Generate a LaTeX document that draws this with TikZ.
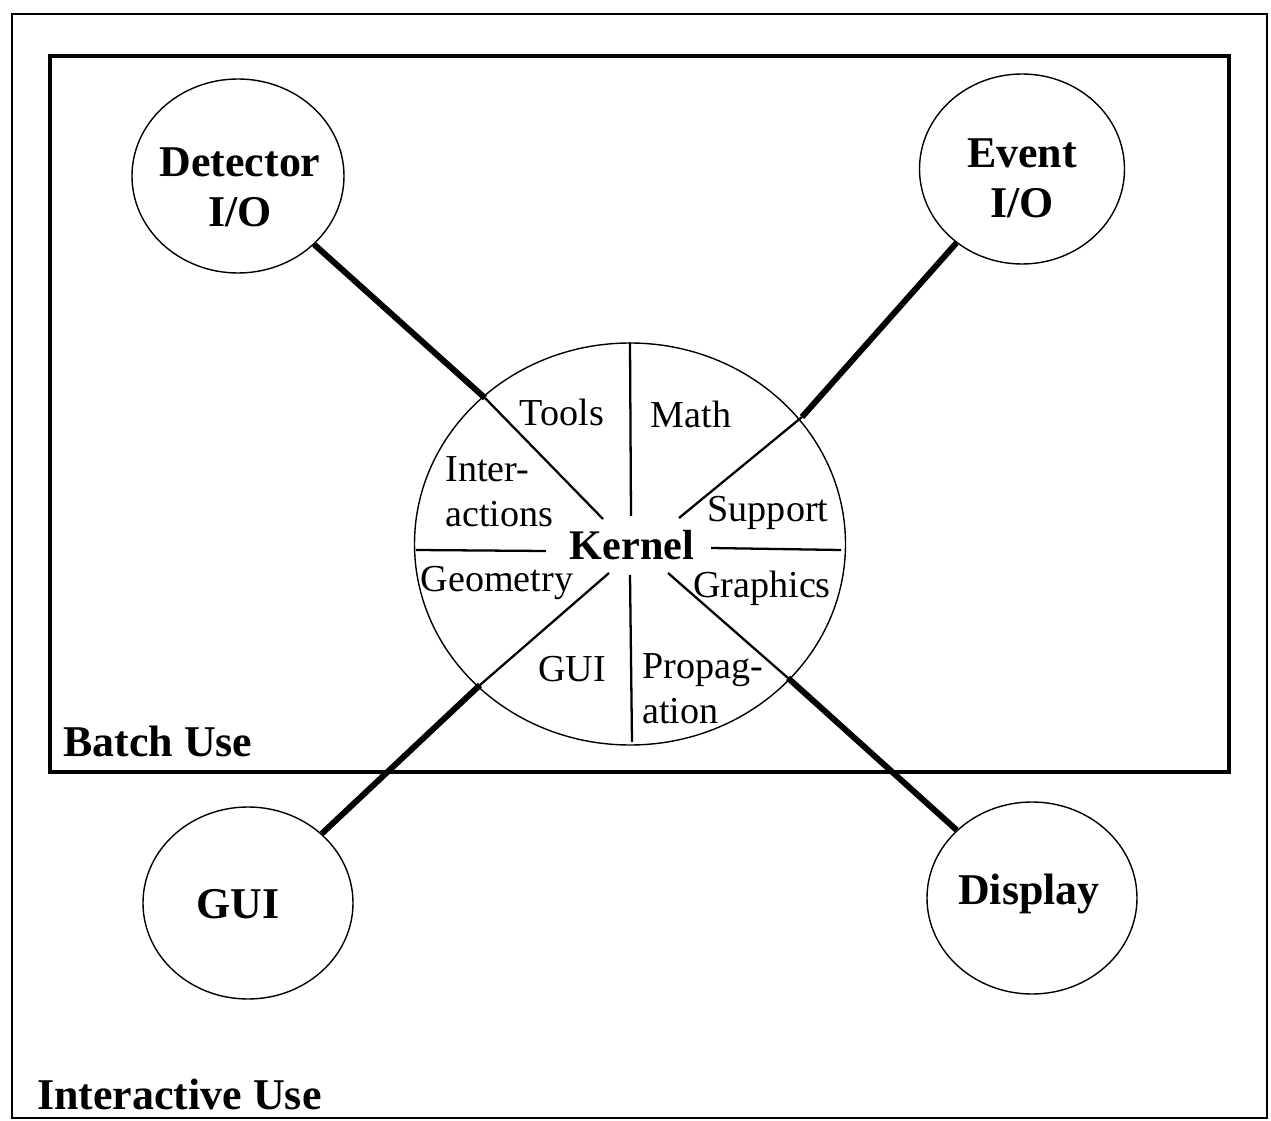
\documentclass[tikz,border=0pt]{standalone}
\usepackage{fontspec}
\setmainfont{Liberation Serif}
\usetikzlibrary{shapes.geometric}
\newdimen\px
\px=0.02cm
\tikzset{
  frame/.style={draw, line width=1.5pt},
  usebox/.style={draw, line width=2pt},
  module/.style={ellipse, draw, line width=0.8pt, inner sep=0pt},
  modtext/.style={align=center, inner sep=0pt,
    font=\fontsize{25}{28.5}\selectfont\bfseries},
  kernelpart/.style={ellipse, draw, line width=0.8pt, inner sep=0pt,
    minimum width=431\px, minimum height=402\px},
  link/.style={line width=3.4pt},
  spoke/.style={line width=1.3pt},
  part/.style={font=\fontsize{21.7}{25.5}\selectfont, inner sep=0pt},
  parttwo/.style={part, align=left, anchor=north west},
  biglabel/.style={font=\fontsize{25}{28}\selectfont\bfseries, inner sep=0pt, anchor=west},
}
\begin{document}
\begin{tikzpicture}[x=\px, y=-\px]
\useasboundingbox (0,0) rectangle (1271,1121);

% frames for the two modes of use
\draw[frame] (12,14) rectangle (1267,1118);
\draw[usebox] (50,56) rectangle (1229,772);
\node[biglabel] (batch) at (63,741) {Batch Use};
\node[biglabel] (inter) at (37,1094) {Interactive Use};

% the kernel and its categories
\node[kernelpart] (kern) at (630,544) {};
\node[font=\fontsize{24}{28}\selectfont\bfseries, inner sep=0pt] (kname) at (632,545) {Kernel};

\node[part] (tools) at (562,412) {Tools};
\node[part] (math) at (691,414) {Math};
\node[parttwo] (interact) at (445,456) {Inter-\\actions};
\node[part] (support) at (768,513) {Support};
\node[part] (geom) at (497,583) {Geometry};
\node[part] (graph) at (762,588) {Graphics};
\node[part] (gui-k) at (572,669) {GUI};
\node[parttwo] (prop) at (642,653) {Propag-\\ation};

% spokes dividing the kernel
\coordinate (vt) at (631,516);
\coordinate (vb0) at (630,575);
\coordinate (vb1) at (632,742);
\coordinate (hl0) at (416,550);
\coordinate (hl1) at (546,551);
\coordinate (hr0) at (711,548);
\coordinate (hr1) at (841,550);
\draw[spoke] (kern.north) -- (vt);
\draw[spoke] (vb0) -- (vb1);
\draw[spoke] (hl0) -- (hl1);
\draw[spoke] (hr0) -- (hr1);

% outer modules
\node[module, minimum width=212\px, minimum height=194\px] (det) at (238,176) {};
\node[module, minimum width=205\px, minimum height=190\px] (ev) at (1022,169) {};
\node[module, minimum width=210\px, minimum height=192\px] (gui) at (248,903) {};
\node[module, minimum width=210\px, minimum height=192\px] (disp) at (1032,898) {};
\node[modtext] (det-t) at (240,187) {Detector\\I/O};
\node[modtext] (ev-t) at (1022,178) {Event\\I/O};
\node[modtext] (gui-t) at (238,904) {GUI};
\node[modtext] (disp-t) at (1029,894) {Display};

% connections between modules and the kernel
\coordinate (kb1) at (485,398);
\coordinate (ki1) at (603,519);
\coordinate (kb2) at (802,417);
\coordinate (ki2) at (679,518);
\coordinate (kb3) at (480,685);
\coordinate (ki3) at (609,573);
\coordinate (kb4) at (788,678);
\coordinate (ki4) at (668,573);

\draw[link] (det) -- (kb1);
\draw[spoke] (kb1) -- (ki1);
\draw[link] (ev) -- (kb2);
\draw[spoke] (kb2) -- (ki2);
\draw[link] (gui) -- (kb3);
\draw[spoke] (kb3) -- (ki3);
\draw[link] (disp) -- (kb4);
\draw[spoke] (kb4) -- (ki4);
\end{tikzpicture}
\end{document}
